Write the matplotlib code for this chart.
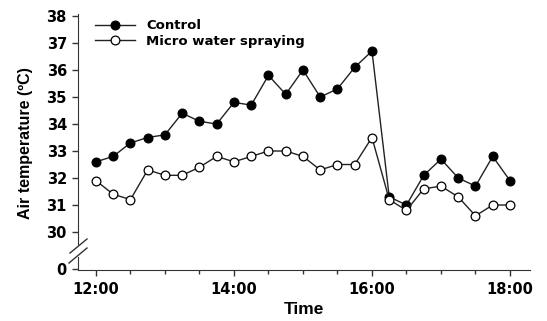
import matplotlib
matplotlib.use("Agg")
import matplotlib.pyplot as plt
from matplotlib.lines import Line2D
from matplotlib.ticker import MultipleLocator, FuncFormatter

plt.rcParams["font.family"] = ["Liberation Sans", "DejaVu Sans"]
plt.rcParams["font.weight"] = "bold"

times = ["12:00", "12:15", "12:30", "12:45", "13:00", "13:15", "13:30", "13:45",
         "14:00", "14:15", "14:30", "14:45", "15:00", "15:15", "15:30", "15:45",
         "16:00", "16:15", "16:30", "16:45", "17:00", "17:15", "17:30", "17:45",
         "18:00"]
control = [32.6, 32.8, 33.3, 33.5, 33.6, 34.4, 34.1, 34.0, 34.8, 34.7, 35.8, 35.1,
           36.0, 35.0, 35.3, 36.1, 36.7, 31.3, 31.0, 32.1, 32.7, 32.0, 31.7, 32.8, 31.9]
spraying = [31.9, 31.4, 31.2, 32.3, 32.1, 32.1, 32.4, 32.8, 32.6, 32.8, 33.0, 33.0,
            32.8, 32.3, 32.5, 32.5, 33.5, 31.2, 30.8, 31.6, 31.7, 31.3, 30.6, 31.0, 31.0]
series_names = ["Control", "Micro water spraying"]

hours = [int(t[:2]) + int(t[3:]) / 60 for t in times]

W, H = 547, 321
fig = plt.figure(figsize=(W / 100, H / 100), dpi=100)
WIDE = ["DejaVu Sans"]   # reference text is wide-set


def box(x0, y0, x1, y1):
    # pixel box (top-left origin) -> figure fraction rect
    return [x0 / W, 1 - y1 / H, (x1 - x0) / W, (y1 - y0) / H]


ax = fig.add_axes(box(78, 14, 530, 244))     # 30..38 part
axb = fig.add_axes(box(78, 257, 530, 270))   # the lone 0 below the break

kw = dict(color="#222222", lw=1.0, markersize=6.3, markeredgecolor="black",
          markeredgewidth=0.9)
ax.plot(hours, control, marker="o", markerfacecolor="black", label=series_names[0], **kw)
ax.plot(hours, spraying, marker="o", markerfacecolor="white", label=series_names[1], **kw)

for a in (ax, axb):
    a.set_xlim(11.74, 18.29)
ax.set_ylim(29.556, 38.074)
ax.set_yticks(range(30, 39))
axb.set_ylim(-0.1, 1.2)
axb.set_yticks([0])

for a in (ax, axb):
    for s in ("top", "right"):
        a.spines[s].set_visible(False)
    a.spines["left"].set_color("#333333")
    a.spines["bottom"].set_color("#333333")
    a.tick_params(axis="y", direction="out", length=4, width=1, pad=4,
                  colors="#333333", labelcolor="black")
    for lab in a.get_yticklabels():
        lab.set_fontfamily(WIDE)
        lab.set_fontsize(10.5)
ax.spines["bottom"].set_visible(False)
ax.xaxis.set_visible(False)

axb.xaxis.set_major_locator(MultipleLocator(2))
axb.xaxis.set_minor_locator(MultipleLocator(0.5))
axb.xaxis.set_major_formatter(FuncFormatter(lambda v, p: f"{int(round(v))}:00"))
axb.tick_params(axis="x", which="major", direction="out", length=4, width=1,
                pad=5, colors="#333333", labelcolor="black")
axb.tick_params(axis="x", which="minor", direction="out", length=3, width=1,
                colors="#333333")
fig.canvas.draw()
for lab in axb.get_xticklabels():
    lab.set_fontfamily(WIDE)
    lab.set_fontsize(10.5)
axb.set_xlabel("Time", fontsize=12.5, fontweight="bold", labelpad=3)

ax.set_ylabel("Air temperature (\u00baC)", fontsize=11.5, fontweight="bold")
ax.yaxis.set_label_coords(-0.1, 0.44)

# axis break marks
for (x0, y0, x1, y1) in [(70, 253, 87, 239), (69, 263, 87, 248)]:
    fig.add_artist(Line2D([x0 / W, x1 / W], [1 - y0 / H, 1 - y1 / H],
                          transform=fig.transFigure, color="#333333", lw=1))

leg = ax.legend(loc="upper left", bbox_to_anchor=(0.026, 1.0), frameon=False,
                prop={"family": WIDE, "weight": "bold", "size": 9.5},
                handlelength=3.0, handletextpad=0.9,
                labelspacing=0.2, borderaxespad=0)

fig.savefig("out.png", dpi=100)
